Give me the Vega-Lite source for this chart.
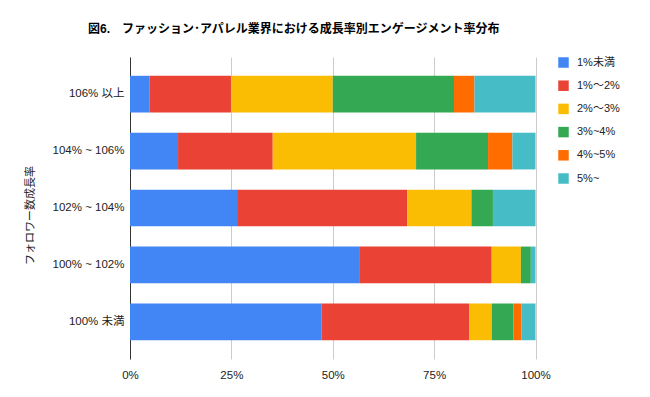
{
  "$schema": "https://vega.github.io/schema/vega-lite/v6.json",
  "width": 405.5,
  "height": 302,
  "autosize": {"type": "none"},
  "padding": {"left": 130, "top": 57, "right": 114.5, "bottom": 38},
  "background": "white",
  "title": {
    "text": "図6.　ファッション･アパレル業界における成長率別エンゲージメント率分布",
    "anchor": "start",
    "frame": "group",
    "dx": -42,
    "offset": 21,
    "font": "Liberation Sans, Noto Sans CJK JP",
    "fontSize": 12,
    "fontWeight": "bold",
    "color": "#000000"
  },
  "data": {
    "values": [
      {"cat": "106% 以上", "seg": "1%未満", "k": 1, "v": 4.85},
      {"cat": "106% 以上", "seg": "1%〜2%", "k": 2, "v": 20.05},
      {"cat": "106% 以上", "seg": "2%〜3%", "k": 3, "v": 25.1},
      {"cat": "106% 以上", "seg": "3%~4%", "k": 4, "v": 29.9},
      {"cat": "106% 以上", "seg": "4%~5%", "k": 5, "v": 5.05},
      {"cat": "106% 以上", "seg": "5%~", "k": 6, "v": 15.05},
      {"cat": "104% ~ 106%", "seg": "1%未満", "k": 1, "v": 11.85},
      {"cat": "104% ~ 106%", "seg": "1%〜2%", "k": 2, "v": 23.35},
      {"cat": "104% ~ 106%", "seg": "2%〜3%", "k": 3, "v": 35.35},
      {"cat": "104% ~ 106%", "seg": "3%~4%", "k": 4, "v": 17.75},
      {"cat": "104% ~ 106%", "seg": "4%~5%", "k": 5, "v": 6.0},
      {"cat": "104% ~ 106%", "seg": "5%~", "k": 6, "v": 5.7},
      {"cat": "102% ~ 104%", "seg": "1%未満", "k": 1, "v": 26.4},
      {"cat": "102% ~ 104%", "seg": "1%〜2%", "k": 2, "v": 42.0},
      {"cat": "102% ~ 104%", "seg": "2%〜3%", "k": 3, "v": 15.8},
      {"cat": "102% ~ 104%", "seg": "3%~4%", "k": 4, "v": 5.3},
      {"cat": "102% ~ 104%", "seg": "5%~", "k": 6, "v": 10.5},
      {"cat": "100% ~ 102%", "seg": "1%未満", "k": 1, "v": 56.7},
      {"cat": "100% ~ 102%", "seg": "1%〜2%", "k": 2, "v": 32.5},
      {"cat": "100% ~ 102%", "seg": "2%〜3%", "k": 3, "v": 7.2},
      {"cat": "100% ~ 102%", "seg": "3%~4%", "k": 4, "v": 2.45},
      {"cat": "100% ~ 102%", "seg": "5%~", "k": 6, "v": 1.15},
      {"cat": "100% 未満", "seg": "1%未満", "k": 1, "v": 47.2},
      {"cat": "100% 未満", "seg": "1%〜2%", "k": 2, "v": 36.5},
      {"cat": "100% 未満", "seg": "2%〜3%", "k": 3, "v": 5.5},
      {"cat": "100% 未満", "seg": "3%~4%", "k": 4, "v": 5.4},
      {"cat": "100% 未満", "seg": "4%~5%", "k": 5, "v": 1.9},
      {"cat": "100% 未満", "seg": "5%~", "k": 6, "v": 3.5}
    ]
  },
  "mark": {"type": "bar"},
  "encoding": {
    "y": {
      "field": "cat",
      "type": "nominal",
      "sort": ["106% 以上", "104% ~ 106%", "102% ~ 104%", "100% ~ 102%", "100% 未満"],
      "scale": {"paddingInner": 0.355, "paddingOuter": 0.33},
      "axis": {
        "title": "フォロワー数成長率",
        "titleFont": "Liberation Sans, Noto Sans CJK JP",
        "titleFontSize": 11,
        "titleFontWeight": "normal",
        "titleColor": "#222222",
        "titlePadding": 17,
        "titleY": 158,
        "labelFont": "Liberation Sans, Noto Sans CJK JP",
        "labelFontSize": 11.5,
        "labelColor": "#222222",
        "labelPadding": 6,
        "ticks": false,
        "domainColor": "#333333",
        "domainWidth": 1,
        "grid": false
      }
    },
    "x": {
      "field": "v",
      "type": "quantitative",
      "stack": "normalize",
      "scale": {"domain": [0, 1]},
      "axis": {
        "title": null,
        "format": ".0%",
        "values": [0, 0.25, 0.5, 0.75, 1],
        "labelFlush": false,
        "labelFont": "Liberation Sans, Noto Sans CJK JP",
        "labelFontSize": 11.5,
        "labelColor": "#222222",
        "labelPadding": 10,
        "ticks": false,
        "domain": false,
        "grid": true,
        "gridColor": "#cccccc",
        "gridWidth": 1
      }
    },
    "color": {
      "field": "seg",
      "type": "nominal",
      "scale": {
        "domain": ["1%未満", "1%〜2%", "2%〜3%", "3%~4%", "4%~5%", "5%~"],
        "range": ["#4285F4", "#EA4335", "#FBBC04", "#34A853", "#FF6D01", "#46BDC6"]
      },
      "legend": {
        "title": null,
        "symbolType": "square",
        "symbolSize": 110,
        "symbolStrokeWidth": 0,
        "symbolOpacity": 1,
        "labelFont": "Liberation Sans, Noto Sans CJK JP",
        "labelFontSize": 11,
        "labelColor": "#222222",
        "labelOffset": 8,
        "rowPadding": 11.2,
        "offset": 22
      }
    },
    "order": {"field": "k", "type": "quantitative"}
  },
  "config": {
    "view": {"stroke": null}
  }
}
